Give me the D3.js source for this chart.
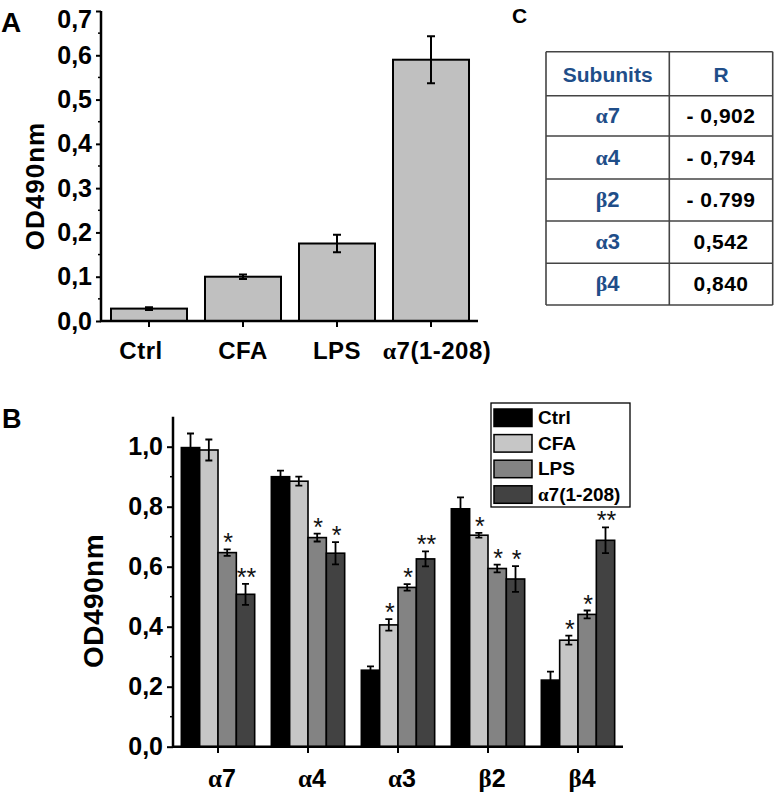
<!DOCTYPE html>
<html><head><meta charset="utf-8">
<script src="https://cdn.jsdelivr.net/npm/d3@7"></script>
<style>
html,body{margin:0;padding:0;background:#fff;}
svg{display:block;font-family:"Liberation Sans",Arial,sans-serif;}
</style></head>
<body>
<svg id="c" width="777" height="793"></svg>
<script>
// ---------- Panel A data ----------
const aCategories = ["Ctrl", "CFA", "LPS", "α7(1-208)"];
const aValues = [0.028, 0.100, 0.175, 0.590];
const aErrors = [0.003, 0.005, 0.020, 0.053];
const aTicks = [0, 0.1, 0.2, 0.3, 0.4, 0.5, 0.6, 0.7];

// ---------- Panel B data ----------
const bGroups = ["α7", "α4", "α3", "β2", "β4"];
const bSeries = ["Ctrl", "CFA", "LPS", "α7(1-208)"];
const bCtrl   = [0.997, 0.900, 0.255, 0.793, 0.222];
const bCFA    = [0.989, 0.885, 0.406, 0.705, 0.355];
const bLPS    = [0.647, 0.697, 0.531, 0.594, 0.441];
const bA7     = [0.508, 0.645, 0.626, 0.559, 0.688];
const bCtrlErr = [0.047, 0.020, 0.013, 0.038, 0.028];
const bCFAErr  = [0.035, 0.015, 0.019, 0.008, 0.015];
const bLPSErr  = [0.011, 0.013, 0.011, 0.013, 0.013];
const bA7Err   = [0.035, 0.037, 0.025, 0.043, 0.043];
const bCtrlSig = ["", "", "", "", ""];
const bCFASig  = ["", "", "*", "*", "*"];
const bLPSSig  = ["*", "*", "*", "*", "*"];
const bA7Sig   = ["**", "*", "**", "*", "**"];
const bTicks = [0, 0.2, 0.4, 0.6, 0.8, 1.0];

// ---------- Panel C data ----------
const cHeader = ["Subunits", "R"];
const cSubunits = ["α7", "α4", "β2", "α3", "β4"];
const cR = ["- 0,902", "- 0,794", "- 0.799", "0,542", "0,840"];

const svg = d3.select("#c");
const fmt = v => d3.format(".1f")(v).replace(".", ",");

function greekText(sel, s) {
  const first = s.charAt(0);
  if (/[α-ωΑ-Ω]/.test(first)) {
    sel.append("tspan").attr("font-family", "'Liberation Serif','Times New Roman',serif").attr("font-weight","bold").text(first);
    sel.append("tspan").text(s.slice(1));
  } else sel.text(s);
}

// ================= Panel A =================
{
  const x = d3.scaleBand().domain(aCategories).range([102, 478]).paddingInner(0.1915).paddingOuter(0.0957);
  const y = d3.scaleLinear().domain([0, 0.7]).range([321, 11]);
  const g = svg.append("g");

  g.selectAll("rect.bar").data(aCategories).join("rect")
    .attr("x", d => x(d)).attr("width", x.bandwidth())
    .attr("y", (d, i) => y(aValues[i])).attr("height", (d, i) => y(0) - y(aValues[i]))
    .attr("fill", "#c0c0c0").attr("stroke", "#000").attr("stroke-width", 2);

  aCategories.forEach((d, i) => {
    const cx = x(d) + x.bandwidth() / 2;
    const t = y(aValues[i] + aErrors[i]), b = y(aValues[i] - aErrors[i]);
    const cw = 4;
    g.append("path").attr("d", `M${cx},${t}V${b}M${cx-cw},${t}H${cx+cw}M${cx-cw},${b}H${cx+cw}`)
      .attr("stroke", "#000").attr("stroke-width", 2).attr("fill", "none");
  });

  const ya = d3.axisLeft(y).tickValues(aTicks).tickFormat(fmt).tickSize(5).tickPadding(4);
  const yg = g.append("g").attr("transform", "translate(101,0)").call(ya);
  yg.select(".domain").remove();
  yg.selectAll("line").attr("stroke-width", 2);
  yg.selectAll("text").attr("font-size", 25).attr("font-weight", "bold").attr("fill", "#000").attr("font-family", "'Liberation Sans',Arial,sans-serif");
  yg.selectAll(".tick").filter(d => d === 0.7).select("text").attr("dy", "0.65em");
  const minorA = d3.range(0.05, 0.7, 0.1);
  g.selectAll("line.minA").data(minorA).join("line")
    .attr("x1", 98).attr("x2", 101).attr("y1", d => y(d)).attr("y2", d => y(d))
    .attr("stroke", "#000").attr("stroke-width", 1.5);
  g.append("line").attr("x1", 101).attr("x2", 101).attr("y1", 11).attr("y2", 322).attr("stroke", "#000").attr("stroke-width", 2.5);

  g.append("line").attr("x1", 100).attr("x2", 478).attr("y1", 321).attr("y2", 321).attr("stroke", "#000").attr("stroke-width", 2.5);
  g.selectAll("line.xtA").data(aCategories).join("line")
    .attr("x1", d => x(d) + x.bandwidth()/2).attr("x2", d => x(d) + x.bandwidth()/2)
    .attr("y1", 321).attr("y2", 327).attr("stroke", "#000").attr("stroke-width", 2);
  g.selectAll("text.xl").data(aCategories).join("text")
    .attr("x", d => x(d) + x.bandwidth()/2 - (d === "Ctrl" ? 8 : d === "α7(1-208)" ? -6 : 0)).attr("y", 359)
    .attr("text-anchor", "middle").attr("font-size", 24).attr("font-weight", "bold")
    .attr("letter-spacing", 0.5)
    .each(function(d){ greekText(d3.select(this), d); });

  g.append("text").attr("transform", "translate(44,186) rotate(-90)")
    .attr("text-anchor", "middle").attr("font-size", 26).attr("font-weight", "bold").attr("letter-spacing", 1)
    .text("OD490nm");

  svg.append("text").attr("x", 1).attr("y", 32).attr("font-size", 28).attr("font-weight", "bold").text("A");
}

// ================= Panel C (table) =================
{
  const xs = [546, 669.3, 772.7];
  const ys = [51.7, 95.7, 136, 179, 221, 263.3, 305];
  const g = svg.append("g");
  svg.append("text").attr("x", 512).attr("y", 23).attr("font-size", 21).attr("font-weight", "bold").text("C");
  ys.forEach(yy => g.append("line").attr("x1", xs[0]).attr("x2", xs[2]).attr("y1", yy).attr("y2", yy).attr("stroke", "#444").attr("stroke-width", 1.6));
  xs.forEach(xx => g.append("line").attr("x1", xx).attr("x2", xx).attr("y1", ys[0]).attr("y2", ys[6]).attr("stroke", "#444").attr("stroke-width", 1.6));
  const c1 = (xs[0] + xs[1]) / 2, c2 = (xs[1] + xs[2]) / 2;
  const blue = "#1f4e89";
  g.append("text").attr("x", c1).attr("y", 82).attr("text-anchor", "middle").attr("font-size", 21).attr("font-weight", "bold").attr("fill", blue).text(cHeader[0]);
  g.append("text").attr("x", c2).attr("y", 82).attr("text-anchor", "middle").attr("font-size", 21).attr("font-weight", "bold").attr("fill", blue).text(cHeader[1]);
  cSubunits.forEach((s, i) => {
    const cy = (ys[i+1] + ys[i+2]) / 2 + 7;
    const t = g.append("text").attr("x", c1).attr("y", cy).attr("text-anchor", "middle").attr("font-size", 22).attr("font-weight", "bold").attr("fill", blue);
    greekText(t, s);
    g.append("text").attr("x", c2).attr("y", cy).attr("text-anchor", "middle").attr("font-size", 21).attr("font-weight", "bold").attr("fill", "#000").attr("letter-spacing", 0.5).text(cR[i]);
  });
}

// ================= Panel B =================
{
  const vals = [bCtrl, bCFA, bLPS, bA7];
  const errs = [bCtrlErr, bCFAErr, bLPSErr, bA7Err];
  const sigs = [bCtrlSig, bCFASig, bLPSSig, bA7Sig];
  const colors = ["#000000", "#c6c6c6", "#838383", "#424242"];
  const x0 = d3.scaleBand().domain(bGroups).range([173, 623]).paddingInner(0.185).paddingOuter(0.0926);
  const x1 = d3.scaleBand().domain(bSeries).range([0, x0.bandwidth()]);
  const y = d3.scaleLinear().domain([0, 1.1]).range([746.7, 416.7]);
  const g = svg.append("g");

  const data = [];
  bGroups.forEach((grp, gi) => bSeries.forEach((s, si) => data.push({grp, s, si, v: vals[si][gi], e: errs[si][gi], sig: sigs[si][gi]})));

  g.selectAll("rect.bb").data(data).join("rect")
    .attr("x", d => x0(d.grp) + x1(d.s)).attr("width", x1.bandwidth())
    .attr("y", d => y(d.v)).attr("height", d => y(0) - y(d.v))
    .attr("fill", d => colors[d.si]).attr("stroke", "#000").attr("stroke-width", 1.6);

  data.forEach(d => {
    const cx = x0(d.grp) + x1(d.s) + x1.bandwidth() / 2;
    const t = y(d.v + d.e), b = y(d.v - d.e), cw = 3.5;
    g.append("path").attr("d", `M${cx},${t}V${b}M${cx-cw},${t}H${cx+cw}M${cx-cw},${b}H${cx+cw}`)
      .attr("stroke", "#000").attr("stroke-width", 1.8).attr("fill", "none");
    if (d.sig) {
      g.append("text").attr("x", cx + 1).attr("y", t + 2).attr("text-anchor", "middle")
        .attr("font-size", 25).attr("fill", "#111").text(d.sig);
    }
  });

  const ya = d3.axisLeft(y).tickValues(bTicks).tickFormat(fmt).tickSize(6).tickPadding(4);
  const yg = g.append("g").attr("transform", "translate(173,0)").call(ya);
  yg.select(".domain").remove();
  yg.selectAll("line").attr("stroke-width", 2);
  yg.selectAll("text").attr("font-size", 25).attr("font-weight", "bold").attr("fill", "#000").attr("font-family", "'Liberation Sans',Arial,sans-serif");
  const minorB = d3.range(0.1, 1.1, 0.2);
  g.selectAll("line.minB").data(minorB).join("line")
    .attr("x1", 170).attr("x2", 173).attr("y1", d => y(d)).attr("y2", d => y(d))
    .attr("stroke", "#000").attr("stroke-width", 1.5);
  g.append("line").attr("x1", 173).attr("x2", 173).attr("y1", y(1.1)).attr("y2", 748).attr("stroke", "#000").attr("stroke-width", 2.5);

  g.append("line").attr("x1", 172).attr("x2", 623).attr("y1", 746.7).attr("y2", 746.7).attr("stroke", "#000").attr("stroke-width", 2.5);
  g.selectAll("line.xtB").data(bGroups).join("line")
    .attr("x1", d => x0(d) + x0.bandwidth()/2).attr("x2", d => x0(d) + x0.bandwidth()/2)
    .attr("y1", 746.7).attr("y2", 753).attr("stroke", "#000").attr("stroke-width", 2);
  g.selectAll("text.xlB").data(bGroups).join("text")
    .attr("x", d => x0(d) + x0.bandwidth()/2 + 4).attr("y", 787)
    .attr("text-anchor", "middle").attr("font-size", 25).attr("font-weight", "bold")
    .each(function(d){ greekText(d3.select(this), d); });

  g.append("text").attr("transform", "translate(103,601) rotate(-90)")
    .attr("text-anchor", "middle").attr("font-size", 28).attr("font-weight", "bold").attr("letter-spacing", 0.5)
    .text("OD490nm");

  svg.append("text").attr("x", 2).attr("y", 428).attr("font-size", 27).attr("font-weight", "bold").text("B");

  const lg = g.append("g");
  lg.append("rect").attr("x", 491).attr("y", 403).attr("width", 139).attr("height", 104)
    .attr("fill", "#fff").attr("stroke", "#000").attr("stroke-width", 1.3);
  bSeries.forEach((s, i) => {
    const yy = 409 + i * 25.6;
    lg.append("rect").attr("x", 494).attr("y", yy).attr("width", 38).attr("height", 17.5)
      .attr("fill", colors[i]).attr("stroke", "#000").attr("stroke-width", 1.5);
    const t = lg.append("text").attr("x", 538).attr("y", yy + 15).attr("font-size", 19).attr("font-weight", "bold");
    greekText(t, s);
  });
}
</script>
</body></html>
